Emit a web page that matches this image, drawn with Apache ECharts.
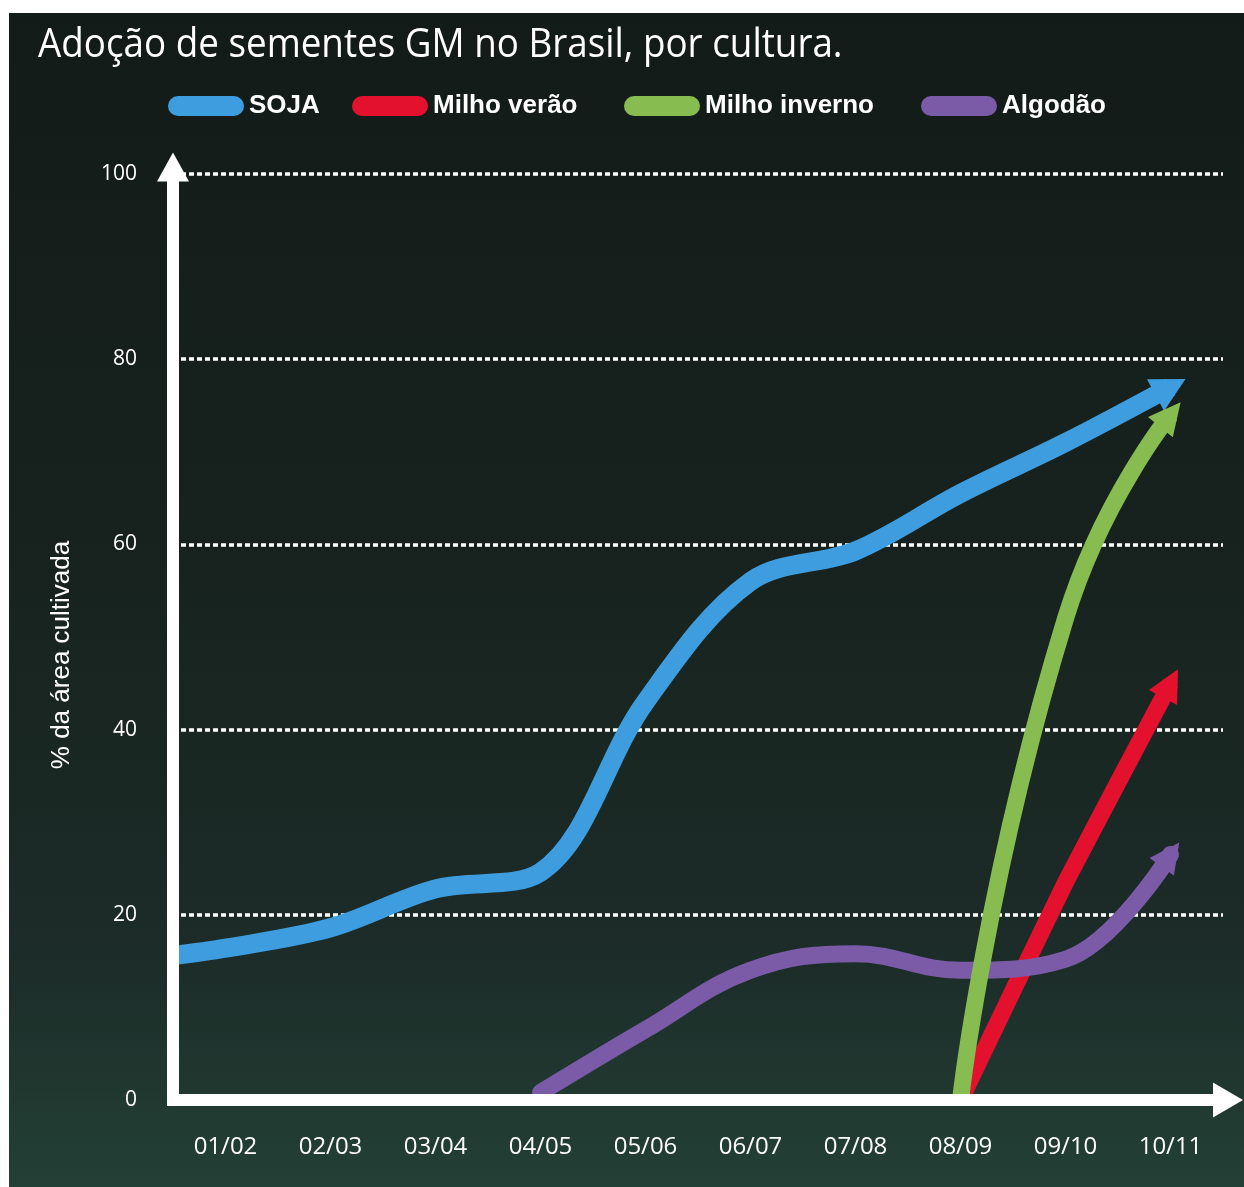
<!DOCTYPE html>
<html>
<head>
<meta charset="utf-8">
<script src="https://cdn.jsdelivr.net/npm/echarts/dist/echarts.min.js"></script>
<style>
html,body{margin:0;padding:0;background:#ffffff;width:1244px;height:1187px;overflow:hidden}
#c{position:absolute;left:9px;top:13px;width:1235px;height:1174px}
</style>
</head>
<body>
<div id="c"></div>
<script>
// ---------------- data ----------------
const chartTitle = 'Adoção de sementes GM no Brasil, por cultura.';
const yAxisName = '% da área cultivada';
const categories = ['01/02','02/03','03/04','04/05','05/06','06/07','07/08','08/09','09/10','10/11'];
const seriesNames = ['SOJA','Milho verão','Milho inverno','Algodão'];
const sojaAtAxis = 15.6; // value where the SOJA line meets the y axis
const soja         = [16.4, 18.6, 22.8, 24.6, 43.0, 56.0, 59.3, 65.5, 71.0, 77.0];
const milhoVerao   = [null, null, null, null, null, null, null, 0, 23.5, 45.0];
const milhoInverno = [null, null, null, null, null, null, null, 0, 52.0, 74.0];
const algodao      = [null, null, null, 0.8, 7.6, 14.0, 15.8, 14.0, 15.2, 26.5];
const yMin = 0, yMax = 100, yStep = 20;

// ---------------- style ----------------
const colors = ['#3d9ddf', '#e3102e', '#87bc50', '#7b5ba7'];
const lineWidths = [19, 17, 17, 17];
const smooths = [0.35, 0.15, 0.55, 0.4];
const caps = ['butt', 'butt', 'butt', 'round'];
const zs = [2, 2, 4, 3];
const arrowSizes = [[36, 34], [32, 32], [32, 32], [30, 30]];
const legendLefts = [159, 343, 615, 912];
const xMinV = -0.5, xMaxV = categories.length - 0.5;

function toPairs(vals) {
  const out = [];
  vals.forEach((v, i) => { if (v !== null) out.push([i, v]); });
  return out;
}
const seriesData = [
  [[xMinV, sojaAtAxis]].concat(toPairs(soja)),
  toPairs(milhoVerao),
  toPairs(milhoInverno),
  toPairs(algodao)
];

const pill = 'path://M10,0H66A10,10,0,0,1,66,20H10A10,10,0,0,1,10,0Z';

function buildSeries(arrows) {
  return seriesNames.map((name, i) => {
    const d = seriesData[i].map((p, k) => {
      if (k === seriesData[i].length - 1 && arrows) {
        return { value: p, symbol: 'triangle', symbolSize: arrowSizes[i], symbolRotate: arrows[i] };
      }
      return { value: p };
    });
    return {
      name: name,
      type: 'line',
      xAxisIndex: 1,
      yAxisIndex: 0,
      data: d,
      smooth: smooths[i],
      symbol: 'none',
      showSymbol: true,
      z: zs[i],
      color: colors[i],
      itemStyle: { color: colors[i], borderWidth: 0 },
      lineStyle: { color: colors[i], width: lineWidths[i], cap: caps[i], join: 'round' },
      emphasis: { disabled: true },
      silent: true,
      animation: false
    };
  });
}

const font = "'Open Sans', 'Noto Sans', sans-serif";

const option = {
  animation: false,
  backgroundColor: {
    type: 'linear', x: 0, y: 0, x2: 0, y2: 1,
    colorStops: [
      { offset: 0, color: '#131b18' },
      { offset: 0.45, color: '#17221e' },
      { offset: 0.8, color: '#1c2c28' },
      { offset: 1, color: '#234036' }
    ]
  },
  graphic: [{
    type: 'text', x: 29, y: 13, scaleX: 0.92,
    style: { text: chartTitle, fill: '#ffffff', font: "normal 40px 'Open Sans', sans-serif", textVerticalAlign: 'top' }
  }, {
    type: 'text', x: 53, y: 642, rotation: Math.PI / 2,
    style: { text: yAxisName, fill: '#ffffff', font: "normal 26px 'Liberation Sans', Arial, sans-serif",
      textAlign: 'center', textVerticalAlign: 'middle' }
  }],
  legend: seriesNames.map((n, i) => ({
    data: [n], left: legendLefts[i], top: 80, padding: 0,
    icon: pill, itemWidth: 76, itemHeight: 20, itemGap: 0, selectedMode: false,
    textStyle: { color: '#ffffff', fontFamily: "'Liberation Sans', Arial, sans-serif", fontWeight: 'bold', fontSize: 26 }
  })),
  grid: { left: 164, right: 21, top: 161, bottom: 87, containLabel: false, outerBoundsMode: 'none' },
  xAxis: [{
    type: 'category', data: categories, boundaryGap: true, position: 'bottom', z: 6,
    axisLine: { show: true, symbol: ['none', 'triangle'], symbolSize: [35, 30], symbolOffset: [0, 5],
      lineStyle: { color: '#ffffff', width: 12, cap: 'square' } },
    axisTick: { show: false },
    splitLine: { show: false },
    axisLabel: { color: '#ffffff', fontFamily: font, fontSize: 24, margin: 35, interval: 0 }
  }, {
    type: 'value', min: xMinV, max: xMaxV, show: false, position: 'bottom'
  }],
  yAxis: [{
    type: 'value', min: yMin, max: yMax, interval: yStep, position: 'left',
    axisLine: { show: false }, axisTick: { show: false },
    splitLine: { show: true, lineStyle: { color: '#ffffff', width: 3.5, type: [5, 3] } },
    axisLabel: { color: '#ffffff', fontFamily: font, fontSize: 21, margin: 36 }
  }, {
    type: 'value', min: yMin, max: yMax, interval: yStep, position: 'left', z: 6,
    axisLine: { show: true, symbol: ['none', 'triangle'], symbolSize: [32, 29], symbolOffset: [0, 7],
      lineStyle: { color: '#ffffff', width: 12, cap: 'square' } },
    axisTick: { show: false }, splitLine: { show: false }, axisLabel: { show: false }
  }],
  series: buildSeries(null)
};

const chart = echarts.init(document.getElementById('c'), null, { renderer: 'canvas' });
chart.setOption(option);

// compute arrow-head rotations from the rendered end tangent of each smooth line
const rots = seriesData.map((pts, i) => {
  const n = pts.length;
  const px = pts.map(p => chart.convertToPixel({ xAxisIndex: 1, yAxisIndex: 0 }, p));
  const P = px[n - 1], Q = px[n - 2], R = px[n - 3] || px[n - 2];
  const s = smooths[i];
  const lenPrev = Math.hypot(Q[0] - R[0], Q[1] - R[1]);
  const lenNext = Math.hypot(P[0] - Q[0], P[1] - Q[1]);
  const ratio = lenNext / (lenNext + lenPrev || 1);
  let cx = Q[0] + (P[0] - R[0]) * s * ratio;
  let cy = Q[1] + (P[1] - R[1]) * s * ratio;
  cx = Math.max(Math.min(cx, Math.max(P[0], Q[0])), Math.min(P[0], Q[0]));
  cy = Math.max(Math.min(cy, Math.max(P[1], Q[1])), Math.min(P[1], Q[1]));
  const dx = P[0] - cx, dy = P[1] - cy;
  return Math.atan2(-dx, -dy) * 180 / Math.PI;
});
chart.setOption({ series: buildSeries(rots) });
</script>
</body>
</html>
